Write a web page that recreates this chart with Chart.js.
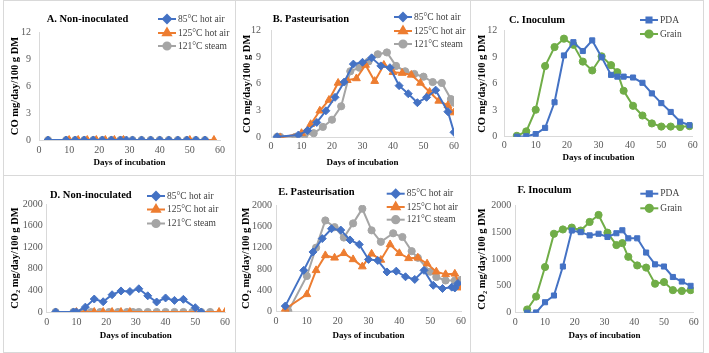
<!DOCTYPE html>
<html>
<head>
<meta charset="utf-8">
<script src="https://cdn.jsdelivr.net/npm/chart.js@4"></script>
<style>
  body { margin: 0; background: #fff; }
  #wrap { position: relative; width: 709px; height: 353px; }
  .panel { position: absolute; border: 1px solid #d9d9d9; box-sizing: border-box; }
  .panel canvas { position: absolute; left: 0; top: 0; }
</style>
</head>
<body>
<div id="wrap"></div>
<script>
// ---- data (days of incubation / values) ----
// A. CO, non-inoculated
const aDays85 = [3, 9, 12, 15, 18, 21, 24, 27, 29, 31, 34, 37, 40, 43, 46, 49, 52, 55];
const aCo85 = [0, 0, 0, 0, 0, 0, 0, 0, 0, 0, 0, 0, 0, 0, 0, 0, 0, 0];
const aDays125 = [10, 13, 16, 19, 22, 25, 28, 50, 58];
const aCo125 = [0, 0, 0, 0, 0, 0, 0, 0, 0];
const aDays121 = [3, 9, 12, 15, 18, 21, 24, 27, 28, 31, 34, 37, 40, 43, 46, 49, 52, 55];
const aCo121 = [0, 0, 0, 0, 0, 0, 0, 0, 0, 0, 0, 0, 0, 0, 0, 0, 0, 0];

// B. CO, pasteurisation
const bDays85 = [2, 9, 12, 15, 18, 21, 24, 27, 30, 33, 36, 39, 42, 45, 48, 51, 54, 58, 60];
const bCo85 = [0.1, 0.3, 0.8, 1.7, 3.0, 4.5, 6.2, 8.2, 8.4, 8.9, 8.0, 7.8, 5.8, 4.9, 3.9, 4.5, 5.3, 2.9, 0.6];
const bDays125 = [3, 10, 13, 16, 19, 22, 25, 28, 31, 34, 37, 40, 43, 46, 49, 52, 55, 58, 60];
const bCo125 = [0, 0.5, 1.5, 3.0, 4.2, 6.1, 6.4, 6.6, 8.1, 6.3, 8.1, 7.3, 7.2, 7.0, 6.1, 5.1, 4.1, 3.6, 2.8];
const bDays121 = [2, 3, 8, 11, 14, 17, 20, 23, 26, 29, 32, 35, 38, 41, 44, 47, 50, 53, 56, 59, 60];
const bCo121 = [0.1, 0.1, 0.1, 0.3, 0.5, 1.2, 2.0, 3.5, 7.4, 7.8, 8.5, 9.3, 9.5, 8.0, 7.4, 7.1, 6.8, 6.2, 6.1, 4.3, 3.9];

// C. CO, inoculum
const cDays = [4, 7, 10, 13, 16, 19, 22, 25, 28, 31, 34, 36, 38, 41, 44, 47, 50, 53, 56, 59];
const cCoPDA = [0, 0.05, 0.3, 1.0, 3.9, 9.2, 10.7, 9.7, 10.9, 9.0, 7.0, 6.8, 6.8, 6.7, 6.1, 4.9, 3.8, 2.8, 1.7, 1.3];
const cCoGrain = [0.1, 0.6, 3.05, 8.0, 10.15, 11.1, 10.4, 8.5, 7.5, 9.1, 8.1, 7.3, 5.2, 3.5, 2.4, 1.5, 1.15, 1.15, 1.1, 1.2];

// D. CO2, non-inoculated
const dDays85 = [3, 9, 10, 13, 16, 19, 22, 25, 28, 31, 34, 37, 40, 43, 46, 50, 52];
const dCo2_85 = [0, 0, 0, 90, 240, 190, 320, 390, 380, 430, 300, 185, 260, 215, 235, 80, 0];
const dDays125 = [10, 13, 16, 19, 22, 25, 28, 58, 60];
const dCo2_125 = [0, 0, 0, 0, 0, 0, 0, 0, 0];
const dDays121 = [3, 9, 12, 15, 18, 21, 24, 27, 29, 31, 34, 37, 40, 43, 46, 49, 52, 55];
const dCo2_121 = [0, 0, 0, 0, 0, 0, 0, 0, 0, 0, 0, 0, 0, 0, 0, 0, 0, 0];

// E. CO2, pasteurisation
const eDays85 = [3, 9, 12, 15, 18, 21, 24, 27, 30, 33, 36, 39, 42, 45, 48, 51, 54, 57, 58, 59];
const eCo2_85 = [105, 775, 1120, 1370, 1555, 1530, 1345, 1260, 980, 960, 745, 760, 655, 605, 775, 495, 435, 460, 445, 530];
const eDays125 = [3, 10, 13, 16, 19, 22, 25, 28, 31, 34, 37, 40, 43, 46, 49, 52, 55, 58, 60];
const eCo2_125 = [50, 325, 775, 1055, 1010, 1095, 980, 845, 1085, 970, 1260, 1095, 1000, 1010, 900, 750, 700, 710, 450];
const eDays121 = [4, 10, 13, 16, 19, 22, 25, 28, 31, 34, 38, 41, 44, 46, 50, 52, 55, 58, 60];
const eCo2_121 = [10, 670, 1200, 1710, 1585, 1390, 1655, 1930, 1525, 1310, 1470, 1400, 1135, 1010, 750, 650, 585, 585, 595];

// F. CO2, inoculum
const fDays = [4, 7, 10, 13, 16, 19, 22, 25, 28, 31, 34, 36, 38, 41, 44, 47, 50, 53, 56, 59];
const fCo2PDA = [0, 5, 195, 320, 860, 1530, 1500, 1440, 1470, 1410, 1480, 1535, 1385, 1385, 1120, 900, 860, 665, 580, 500];
const fCo2Grain = [60, 300, 850, 1470, 1550, 1585, 1530, 1690, 1820, 1490, 1260, 1295, 1040, 880, 840, 540, 570, 420, 405, 420];

const xTicks = [0, 10, 20, 30, 40, 50, 60];
const coTicks = [0, 3, 6, 9, 12];
const co2Ticks = [0, 400, 800, 1200, 1600, 2000];
const co2TicksF = [0, 500, 1000, 1500, 2000];

// ---- styles ----
const BLUE = '#4472c4', ORANGE = '#ed7d31', GREY = '#a5a5a5', GREEN = '#70ad47';
const SERIF = "'Liberation Serif', 'Times New Roman', serif";

function pts(xs, ys) {
  return xs.map((x, i) => ({ x: x, y: ys[i] }));
}

function series(label, xs, ys, color, style) {
  return {
    label: label,
    data: pts(xs, ys),
    borderColor: color,
    backgroundColor: color,
    borderWidth: 2,
    pointStyle: style,
    pointRadius: style === 'rectRot' ? 4 : (style === 'triangle' ? 4.5 : 3.6),
    pointBorderWidth: 1,
    showLine: true,
    tension: 0
  };
}

// title + inner legend, drawn at fixed spots like the Excel chart
const overlay = {
  id: 'overlay',
  afterDraw(chart, args, o) {
    const ctx = chart.ctx;
    ctx.save();
    ctx.fillStyle = '#000';
    ctx.font = 'bold 10.5px ' + SERIF;
    ctx.textAlign = 'center';
    ctx.textBaseline = 'middle';
    ctx.fillText(o.title, o.tx, o.ty);
    chart.data.datasets.forEach((ds, i) => {
      const y = o.ly[i];
      ctx.strokeStyle = ds.borderColor;
      ctx.lineWidth = 2;
      ctx.beginPath();
      ctx.moveTo(o.lx, y);
      ctx.lineTo(o.lx + 18, y);
      ctx.stroke();
      ctx.fillStyle = ds.backgroundColor;
      Chart.helpers.drawPoint(ctx, {
        pointStyle: ds.pointStyle, radius: ds.pointRadius, rotation: 0, borderWidth: 1
      }, o.lx + 9, y);
      ctx.fillStyle = '#404040';
      ctx.font = '9.5px ' + SERIF;
      ctx.textAlign = 'left';
      ctx.fillText(ds.label, o.lx + 20, y);
    });
    ctx.restore();
  }
};

function makePanel(p) {
  const box = document.createElement('div');
  box.className = 'panel';
  box.style.left = p.box[0] + 'px';
  box.style.top = p.box[1] + 'px';
  box.style.width = p.box[2] + 'px';
  box.style.height = p.box[3] + 'px';
  const W = p.box[2] - 2, H = p.box[3] - 2;
  const ox = p.box[0] + 1, oy = p.box[1] + 1;
  const cv = document.createElement('canvas');
  cv.width = W; cv.height = H;
  cv.style.width = W + 'px'; cv.style.height = H + 'px';
  box.appendChild(cv);
  document.getElementById('wrap').appendChild(box);

  const left = p.ca[0] - ox, right = p.ca[1] - ox, top = p.ca[2] - oy, bottom = p.ca[3] - oy;
  const tickFont = { family: SERIF, size: 10 };
  const xTitleFont = { family: SERIF, size: 9, weight: 'bold' };
  const yTitleFont = { family: SERIF, size: 10.5, weight: 'bold' };
  const yPad = (p.yTitleX - ox) - 10.5 * 1.2 / 2;
  const xPad = (oy + H) - p.xTitleY - 9 * 1.2 / 2;

  new Chart(cv, {
    type: 'scatter',
    data: { datasets: p.datasets },
    options: {
      responsive: false,
      animation: false,
      layout: { padding: { left: 0, top: top, right: W - right, bottom: 0 } },
      plugins: {
        legend: { display: false },
        tooltip: { enabled: false },
        overlay: {
          title: p.title, tx: p.titlePos[0] - ox, ty: p.titlePos[1] - oy,
          lx: p.legendX - ox, ly: p.legendY.map(v => v - oy)
        }
      },
      scales: {
        x: {
          type: 'linear', min: 0, max: 60,
          afterBuildTicks(s) { s.ticks = xTicks.map(v => ({ value: v })); },
          afterFit(s) { s.height = H - bottom; },
          ticks: { font: tickFont, color: '#595959', padding: p.xTickPad, maxRotation: 0,
                   callback: v => String(v) },
          grid: { display: false, drawTicks: false },
          border: { display: true, color: '#d9d9d9', width: 1 },
          title: { display: true, text: 'Days of incubation', font: xTitleFont, color: '#000',
                   padding: { top: xPad, bottom: xPad } }
        },
        y: {
          min: 0, max: p.yTicks[p.yTicks.length - 1],
          afterBuildTicks(s) { s.ticks = p.yTicks.map(v => ({ value: v })); },
          afterFit(s) { s.width = left; },
          ticks: { font: tickFont, color: '#595959', padding: p.yTickPad, callback: v => String(v) },
          grid: { display: false, drawTicks: false },
          border: { display: true, color: '#d9d9d9', width: 1 },
          title: { display: true, text: p.yTitle, font: yTitleFont, color: '#000',
                   padding: { top: yPad, bottom: yPad } }
        }
      }
    },
    plugins: [overlay]
  });
}

const CO = 'CO mg/day/100 g DM';
const CO2 = 'CO\u2082 mg/day/100 g DM';

const panels = [
  { box: [3, 0, 233, 176], ca: [39, 220, 32, 140], title: 'A. Non-inoculated', titlePos: [87.5, 19],
    legendX: 158, legendY: [19, 33, 46], yTitle: CO, yTitleX: 15, xTitleY: 163, yTickPad: 8, xTickPad: 4, yTicks: coTicks,
    datasets: [series('85°C hot air', aDays85, aCo85, BLUE, 'rectRot'),
               series('125°C hot air', aDays125, aCo125, ORANGE, 'triangle'),
               series('121°C steam', aDays121, aCo121, GREY, 'circle')] },
  { box: [235, 0, 236, 176], ca: [271, 454, 30, 137.7], title: 'B. Pasteurisation', titlePos: [311, 19],
    legendX: 394, legendY: [17, 31, 44], yTitle: CO, yTitleX: 247.7, xTitleY: 163, yTickPad: 10, xTickPad: 3, yTicks: coTicks,
    datasets: [series('85°C hot air', bDays85, bCo85, BLUE, 'rectRot'),
               series('125°C hot air', bDays125, bCo125, ORANGE, 'triangle'),
               series('121°C steam', bDays121, bCo121, GREY, 'circle')] },
  { box: [470, 0, 234, 176], ca: [504.3, 692.7, 30.7, 136.7], title: 'C. Inoculum', titlePos: [537, 20],
    legendX: 640, legendY: [20, 34], yTitle: CO, yTitleX: 482, xTitleY: 158, yTickPad: 7, xTickPad: 3, yTicks: coTicks,
    datasets: [series('PDA', cDays, cCoPDA, BLUE, 'rect'),
               series('Grain', cDays, cCoGrain, GREEN, 'circle')] },
  { box: [3, 175, 233, 178], ca: [46.7, 225, 204, 312], title: 'D. Non-inoculated', titlePos: [90.8, 195],
    legendX: 147, legendY: [196, 209.5, 223.5], yTitle: CO2, yTitleX: 15, xTitleY: 335.3, yTickPad: 4, xTickPad: 4, yTicks: co2Ticks,
    datasets: [series('85°C hot air', dDays85, dCo2_85, BLUE, 'rectRot'),
               series('125°C hot air', dDays125, dCo2_125, ORANGE, 'triangle'),
               series('121°C steam', dDays121, dCo2_121, GREY, 'circle')] },
  { box: [235, 175, 236, 178], ca: [276, 462.7, 205, 311.7], title: 'E. Pasteurisation', titlePos: [316.5, 192],
    legendX: 386.7, legendY: [193.7, 207, 219.7], yTitle: CO2, yTitleX: 246, xTitleY: 336, yTickPad: 4, xTickPad: 4, yTicks: co2Ticks,
    datasets: [series('85°C hot air', eDays85, eCo2_85, BLUE, 'rectRot'),
               series('125°C hot air', eDays125, eCo2_125, ORANGE, 'triangle'),
               series('121°C steam', eDays121, eCo2_121, GREY, 'circle')] },
  { box: [470, 175, 234, 178], ca: [515.3, 693.7, 205.3, 312.7], title: 'F. Inoculum', titlePos: [544.5, 190],
    legendX: 640.3, legendY: [193.7, 208.3], yTitle: CO2, yTitleX: 482, xTitleY: 335.3, yTickPad: 4, xTickPad: 4, yTicks: co2TicksF,
    datasets: [series('PDA', fDays, fCo2PDA, BLUE, 'rect'),
               series('Grain', fDays, fCo2Grain, GREEN, 'circle')] }
];

panels.forEach(makePanel);
</script>
</body>
</html>
